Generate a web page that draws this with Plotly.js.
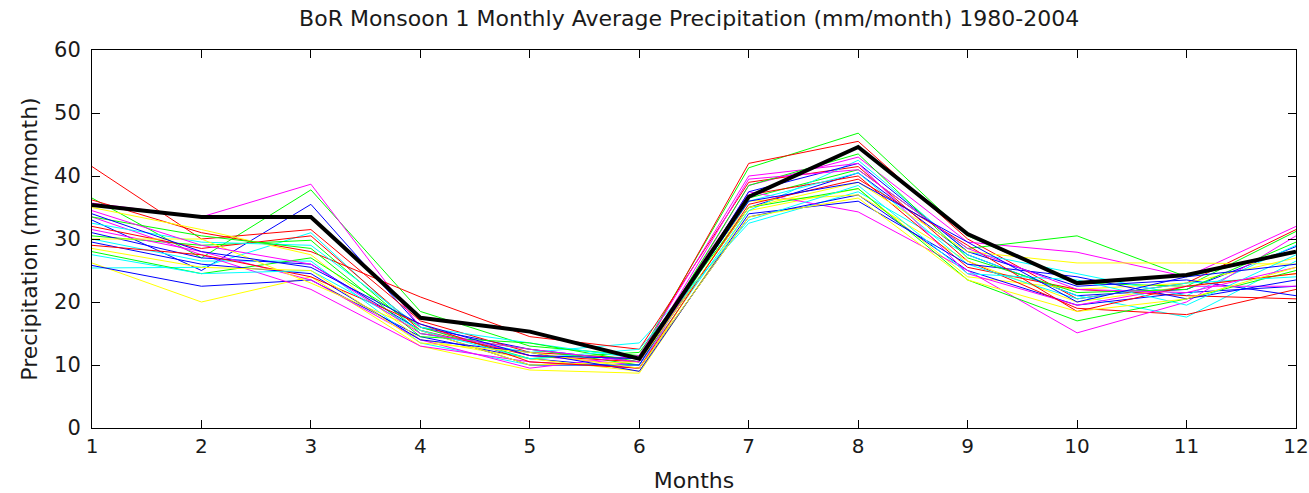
<!DOCTYPE html>
<html>
<head>
<meta charset="utf-8">
<script src="https://cdn.plot.ly/plotly-3.0.1.min.js"></script>
<style>html,body{margin:0;padding:0;background:#fff;}#chart{width:1309px;height:493px;}</style>
</head>
<body>
<div id="chart"></div>
<script>
const months = [1,2,3,4,5,6,7,8,9,10,11,12];
const xTickLabels = ["1","2","3","4","5","6","7","8","9","10","11","12"];
const yTickVals = [0,10,20,30,40,50,60];
const yTickLabels = ["0","10","20","30","40","50","60"];

// individual years (1980-2004), colours cycle b,g,r,c,m,y
const year1980 = [33.0, 25.0, 35.5, 16.0, 12.5, 10.5, 35.0, 40.5, 27.5, 21.0, 22.0, 28.8];
const year1981 = [36.5, 27.0, 37.8, 18.5, 13.0, 11.5, 41.3, 46.8, 30.5, 23.0, 22.5, 31.2];
const year1982 = [41.5, 30.0, 31.5, 17.0, 12.0, 11.0, 42.0, 45.5, 30.0, 20.5, 23.0, 31.5];
const year1983 = [25.4, 25.5, 31.0, 15.0, 12.0, 13.5, 32.5, 37.5, 27.5, 21.0, 17.6, 26.5];
const year1984 = [35.7, 33.5, 38.7, 16.0, 11.5, 10.0, 38.5, 43.0, 29.5, 27.9, 24.0, 32.0];
const year1985 = [26.2, 20.0, 24.0, 13.0, 9.2, 8.7, 34.5, 38.0, 24.0, 22.0, 23.0, 27.0];
const year1986 = [25.8, 22.5, 23.5, 14.5, 11.0, 9.5, 33.5, 37.0, 25.0, 19.5, 21.5, 22.5];
const year1987 = [30.5, 29.0, 29.8, 15.0, 12.5, 10.0, 36.5, 41.0, 28.5, 30.5, 24.0, 28.0];
const year1988 = [36.2, 31.0, 28.0, 20.8, 14.5, 12.5, 39.0, 41.5, 26.5, 19.0, 18.0, 22.0];
const year1989 = [30.0, 26.5, 26.5, 13.5, 10.0, 10.0, 34.5, 42.5, 28.0, 24.5, 21.0, 29.0];
const year1990 = [33.5, 27.5, 22.0, 13.0, 10.5, 9.5, 37.5, 34.3, 25.0, 15.1, 20.0, 30.5];
const year1991 = [35.0, 31.5, 27.5, 14.0, 11.0, 9.0, 36.0, 37.0, 26.5, 20.0, 22.5, 24.5];
const year1992 = [31.0, 27.0, 26.0, 15.5, 10.0, 10.0, 37.5, 42.0, 28.0, 22.5, 23.5, 21.0];
const year1993 = [28.0, 24.5, 27.0, 16.0, 11.0, 12.0, 35.0, 38.0, 23.5, 17.0, 20.5, 25.0];
const year1994 = [32.0, 28.5, 30.5, 15.5, 11.5, 10.5, 37.0, 40.0, 25.5, 22.0, 21.0, 20.5];
const year1995 = [32.5, 29.5, 29.0, 16.0, 13.5, 11.0, 36.0, 40.5, 26.0, 20.5, 23.0, 24.0];
const year1996 = [31.5, 28.0, 23.5, 14.0, 9.5, 11.5, 40.0, 42.0, 24.5, 19.5, 22.5, 22.5];
const year1997 = [30.0, 30.0, 23.0, 15.5, 10.0, 10.5, 35.0, 39.0, 28.0, 26.2, 26.2, 26.0];
const year1998 = [29.5, 26.0, 24.5, 14.0, 12.0, 9.0, 34.0, 36.0, 26.0, 24.0, 20.5, 23.5];
const year1999 = [33.5, 30.5, 28.5, 14.5, 13.5, 10.5, 38.5, 43.5, 27.0, 21.5, 22.0, 29.5];
const year2000 = [29.0, 27.5, 24.0, 16.5, 10.5, 9.5, 35.5, 39.5, 29.0, 18.5, 22.5, 24.5];
const year2001 = [27.5, 24.5, 25.0, 15.5, 11.0, 12.5, 33.0, 38.5, 24.5, 23.5, 19.5, 27.5];
const year2002 = [34.5, 29.0, 26.0, 15.0, 12.5, 10.5, 39.5, 41.0, 28.5, 22.0, 21.5, 25.5];
const year2003 = [28.5, 25.5, 25.0, 13.5, 12.0, 9.5, 33.5, 36.5, 23.5, 18.5, 20.5, 25.5];
const year2004 = [34.0, 28.0, 25.5, 16.5, 11.5, 11.0, 36.0, 39.0, 29.5, 20.0, 24.0, 26.0];
const thickBlack = [35.4, 33.5, 33.5, 17.5, 15.3, 11.0, 36.7, 44.6, 30.8, 23.0, 24.3, 28.0];

const years = [year1980, year1981, year1982, year1983, year1984, year1985, year1986,
  year1987, year1988, year1989, year1990, year1991, year1992, year1993, year1994,
  year1995, year1996, year1997, year1998, year1999, year2000, year2001, year2002,
  year2003, year2004];
const colorCycle = ["#0000ff", "#00ff00", "#ff0000", "#00ffff", "#ff00ff", "#ffff00"];

const traces = years.map((ys, i) => ({
  x: months, y: ys, type: "scatter", mode: "lines",
  line: {color: colorCycle[i % colorCycle.length], width: 1},
  hoverinfo: "none", showlegend: false
}));
traces.push({
  x: months, y: thickBlack, type: "scatter", mode: "lines",
  line: {color: "#000000", width: 4}, hoverinfo: "none", showlegend: false
});

const fontFam = "DejaVu Sans, Verdana, sans-serif";
const txtColor = "#1a1a1a";
const layout = {
  width: 1309, height: 493,
  margin: {l: 92, r: 13, t: 50, b: 65},
  paper_bgcolor: "#ffffff", plot_bgcolor: "#ffffff",
  font: {family: fontFam, size: 20, color: txtColor},
  title: {text: "BoR Monsoon 1 Monthly Average Precipitation (mm/month) 1980-2004",
    font: {family: fontFam, size: 22, color: txtColor},
    x: 0.496, xanchor: "center", xref: "paper", y: 0.962, yanchor: "middle", yref: "container"},
  xaxis: {
    range: [1, 12], tickvals: months, ticktext: xTickLabels,
    ticks: "inside", ticklen: 8, tickcolor: "#000", tickwidth: 1,
    showline: true, linecolor: "#000", linewidth: 1, mirror: "ticks",
    showgrid: false, zeroline: false, ticklabeloverflow: "allow",
    tickfont: {family: fontFam, size: 20, color: txtColor},
    title: {text: "Months", font: {family: fontFam, size: 22, color: txtColor}, standoff: 15}
  },
  yaxis: {
    range: [0, 60], tickvals: yTickVals, ticktext: yTickLabels,
    ticks: "inside", ticklen: 8, tickcolor: "#000", tickwidth: 1,
    showline: true, linecolor: "#000", linewidth: 1, mirror: "ticks",
    showgrid: false, zeroline: false, ticklabelstandoff: 6,
    tickfont: {family: fontFam, size: 21, color: txtColor},
    title: {text: "Precipitation (mm/month)", font: {family: fontFam, size: 22, color: txtColor}, standoff: 10}
  }
};

Plotly.newPlot("chart", traces, layout, {staticPlot: true, displayModeBar: false});
</script>
</body>
</html>
